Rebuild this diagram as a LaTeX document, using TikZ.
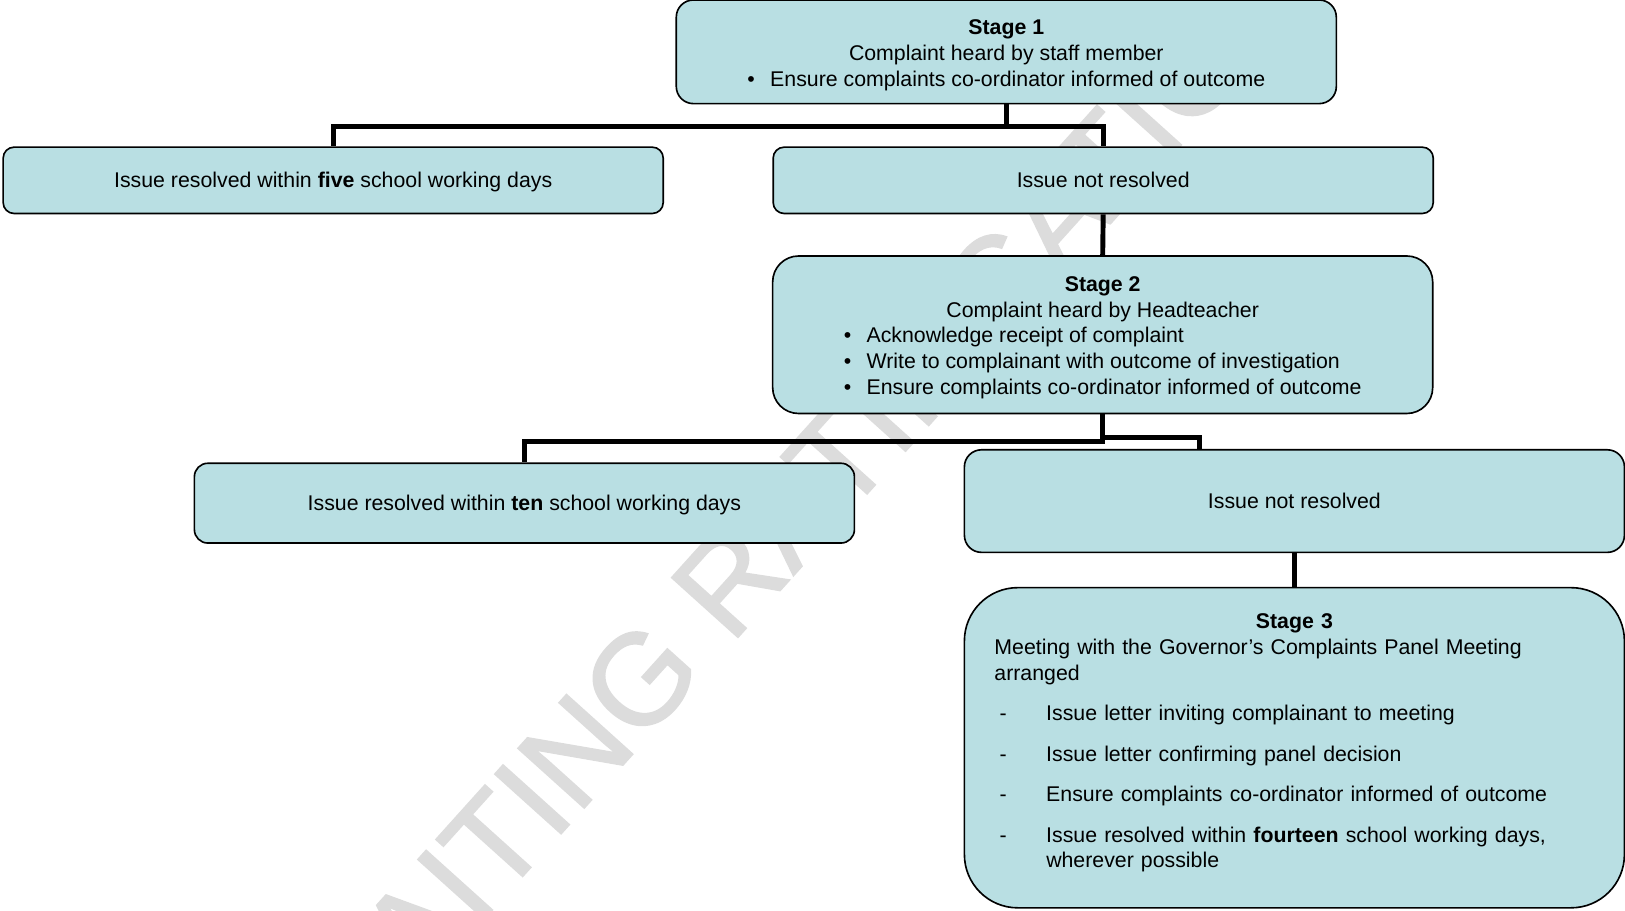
\documentclass[tikz,border=0pt]{standalone}
\usepackage{fontspec}
\setmainfont{Liberation Sans}
\newfontfamily\markfont[FakeBold=1.4]{Liberation Sans}
\usetikzlibrary{calc}
\definecolor{boxblue}{HTML}{B9DFE3}
\definecolor{markgrey}{HTML}{DCDCDC}
\tikzset{
    box/.style={draw, line width=0.9pt, fill=boxblue, minimum width=12.74cm, inner sep=0pt, align=center, font=\fontsize{11.7}{14.2}\selectfont},   % all boxes have the same width
    oneline/.style={text height=10.6pt, text depth=2.2pt},   % keeps one-line labels on the middle
    link/.style={line width=2.7pt}
    }
\newcommand{\blt}{\makebox[0.44cm][l]{\textbullet}}
\newcommand{\dsh}{\makebox[1cm][l]{\hspace{0.1cm}-}}

\begin{document}
\begin{tikzpicture}[x=0.02cm,y=-0.02cm]
	\path[use as bounding box, clip] (0,0) rectangle (1568,879);

	% watermark behind everything
	\node[rotate=48, anchor=base, text=markgrey, font=\markfont\fontsize{71}{80}\selectfont] (mark) at (774,546) {AWAITING RATIFICATION};

	\node[box, minimum height=2cm, rounded corners=0.33cm] (stage1) at (971,50)
		{\rule{0pt}{12pt}\textbf{Stage 1}\\ Complaint heard by staff member\\ \blt Ensure complaints co-ordinator informed of outcome};
	\node[box, oneline, minimum height=1.28cm, rounded corners=0.21cm] (five) at (321.5,174)
		{Issue resolved within \textbf{five} school working days};
	\node[box, oneline, minimum height=1.28cm, rounded corners=0.21cm] (notres1) at (1064.5,174) {Issue not resolved};
	\node[box, minimum height=3.04cm, rounded corners=0.5cm] (stage2) at (1064,323)
		{\rule{0pt}{13.2pt}\textbf{Stage 2}\\ Complaint heard by Headteacher\\
		\begin{tabular}[t]{@{}l@{}}
			\blt Acknowledge receipt of complaint\\
			\blt Write to complainant with outcome of investigation\\
			\blt Ensure complaints co-ordinator informed of outcome
		\end{tabular}};
	\node[box, oneline, minimum height=1.54cm, rounded corners=0.26cm] (ten) at (506,485.5)
		{Issue resolved within \textbf{ten} school working days};
	\node[box, oneline, minimum height=1.98cm, rounded corners=0.33cm] (notres2) at (1249,483.5) {Issue not resolved};
	\node[box, minimum height=6.18cm, rounded corners=1.03cm, align=left, text width=11.58cm, inner xsep=0.58cm] (stage3) at (1249,721.5)
		{\makebox[11.58cm]{\textbf{Stage 3}}\\
		Meeting with the Governor’s Complaints Panel Meeting\\
		arranged\\[8pt]
		\dsh Issue letter inviting complainant to meeting\\[8pt]
		\dsh Issue letter confirming panel decision\\[8pt]
		\dsh Ensure complaints co-ordinator informed of outcome\\[8pt]
		\dsh Issue resolved within \textbf{fourteen} school working days,\\
		\hspace*{1cm}wherever possible\rule[-7.6pt]{0pt}{0pt}};

	\draw[link] (stage1.south) -- ++(0,21) coordinate (split1);
	\draw[link] (five.north) |- (split1) -| (notres1.north);
	\draw[link] (notres1.south) -- (stage2.north);
	\draw[link] (stage2.south) -- ++(0,26) coordinate (split2) -| (ten.north);
	\coordinate (drop) at (1157,434);
	\draw[link] ($(stage2.south)+(0,22)$) -| (drop);
	\draw[link] (notres2.south) -- (stage3.north);
\end{tikzpicture}
\end{document}
